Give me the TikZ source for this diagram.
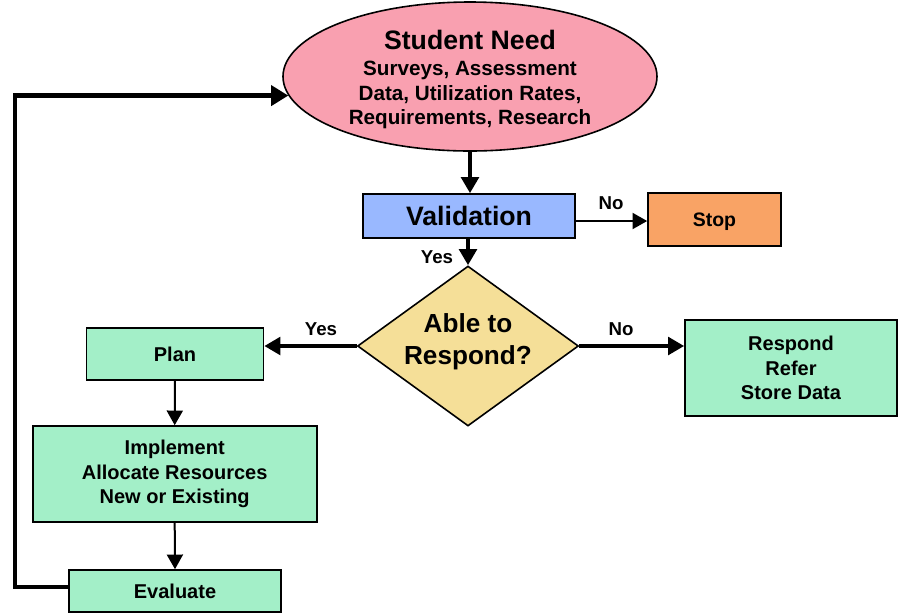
\documentclass[tikz,border=0pt]{standalone}
\usepackage{fontspec}
\setmainfont{Liberation Sans}
\usetikzlibrary{shapes.geometric,arrows.meta}
\definecolor{cpink}{RGB}{249,160,176}
\definecolor{cblue}{RGB}{153,184,255}
\definecolor{corange}{RGB}{249,163,101}
\definecolor{cgreen}{RGB}{163,239,200}
\definecolor{cyellow}{RGB}{245,223,152}
\begin{document}
\begin{tikzpicture}[x=0.75pt,y=-0.75pt,
  shp/.style={draw=black,line width=1.2pt,inner sep=0pt,align=center,font=\bfseries\fontsize{15}{18.4}\selectfont},
  boxg/.style={shp,rectangle,fill=cgreen},
  lbl/.style={inner sep=0pt,font=\bfseries\fontsize{14}{16}\selectfont},
  thickarr/.style={line width=3pt,-{Triangle[length=12pt,width=13pt]}},
  thinarr/.style={line width=1.5pt,-{Triangle[length=11pt,width=12pt]}},
  fbarr/.style={line width=3.2pt,-{Triangle[length=13pt,width=15pt]}}]
\useasboundingbox (0,0) rectangle (900,612);

\node[shp,ellipse,fill=cpink,minimum width=280.5pt,minimum height=107.25pt,
      font=\bfseries\fontsize{15.5}{18.4}\selectfont] (need) at (470,76.5)
  {{\fontsize{20}{20}\selectfont\rule{0pt}{19pt}Student Need}\\[1.6pt]Surveys, Assessment\\Data, Utilization Rates,\\Requirements, Research};

\node[shp,rectangle,fill=cblue,minimum width=159pt,minimum height=33pt,
      font=\bfseries\fontsize{20}{22}\selectfont] (valid) at (469,216) {Validation};

\node[shp,rectangle,fill=corange,minimum width=99.75pt,minimum height=39.75pt,
      font=\bfseries\fontsize{14.6}{17}\selectfont] (stop) at (714.5,219.5) {\rule{0pt}{14pt}Stop};

\node[shp,diamond,aspect=1.38,fill=cyellow,minimum width=165.75pt,minimum height=120pt,
      font=\bfseries\fontsize{19.6}{24}\selectfont] (able) at (468,346) {Able to\\Respond?\rule[-10pt]{0pt}{10pt}};

\node[boxg,minimum width=132.75pt,minimum height=39pt] (plan) at (175,354) {Plan};
\node[boxg,minimum width=213pt,minimum height=72pt] (impl) at (174.7,474) {Implement\\Allocate Resources\\New or Existing};
\node[boxg,minimum width=159pt,minimum height=31.5pt] (eval) at (175,591) {Evaluate};
\node[boxg,minimum width=159pt,minimum height=72pt] (resp) at (791,368) {Respond\\Refer\\Store Data};

\coordinate (loopx) at (15,300);

\draw[thickarr] (need.south) -- (need.south |- valid.north);
\draw[thinarr] (valid.east |- stop.west) ++(0,1.5) coordinate (vs) -- (vs -| stop.west);
\draw[thickarr] (able.north |- valid.south) -- (able.north);
\draw[thickarr] (able.west) -- (able.west -| plan.east);
\draw[thickarr] (able.east) -- (able.east -| resp.west);
\draw[thinarr] (plan.south) -- (impl.north);
\draw[thinarr] (impl.south) -- (eval.north);
\draw[fbarr] ([yshift=3pt]eval.west) -| (loopx) |- (need.186.5);

\node[lbl] (lno1) at (611,203) {No};
\node[lbl] (lyes1) at (437,257) {Yes};
\node[lbl] (lyes2) at (321,329) {Yes};
\node[lbl] (lno2) at (621,329) {No};
\end{tikzpicture}
\end{document}
